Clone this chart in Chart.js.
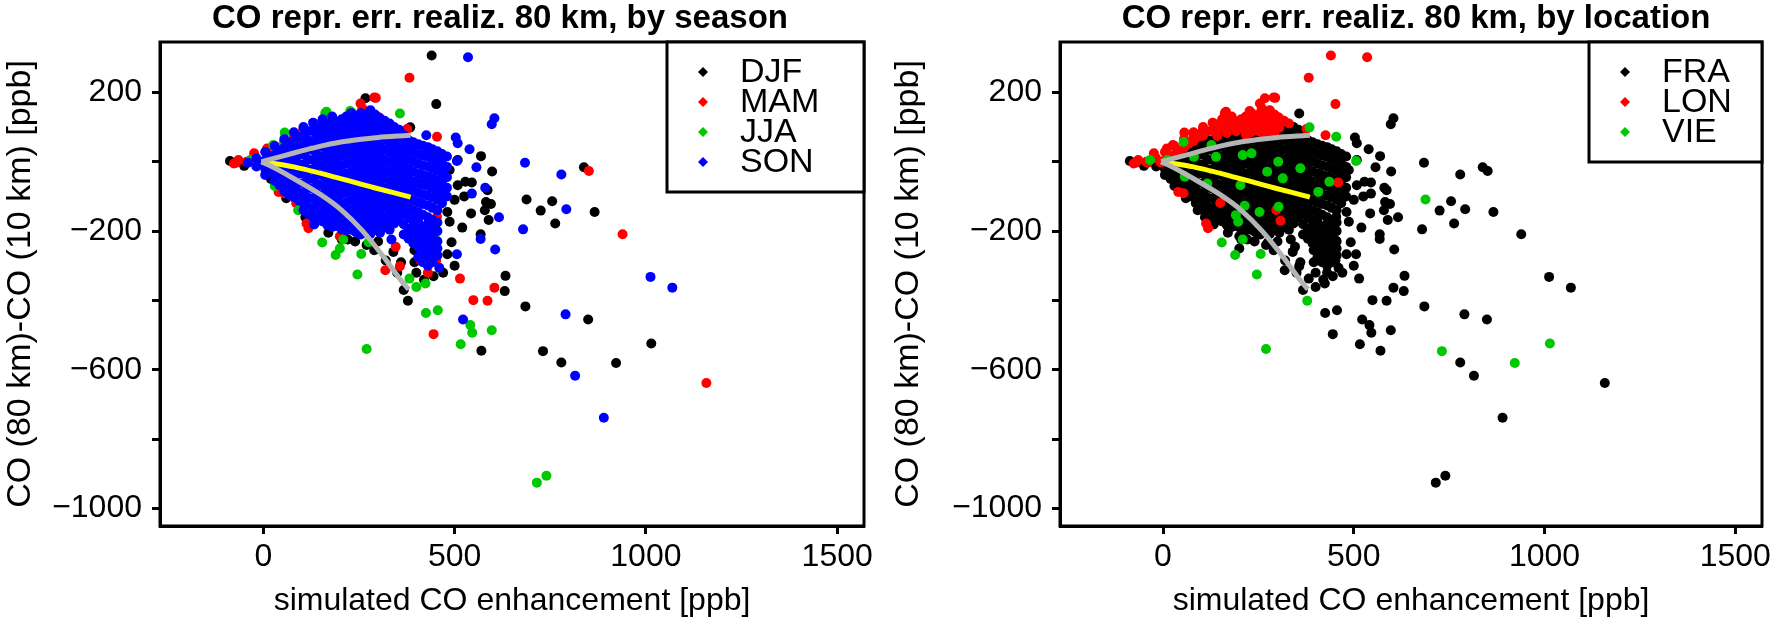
<!DOCTYPE html>
<html>
<head>
<meta charset="utf-8">
<script src="https://cdn.jsdelivr.net/npm/chart.js@4.4.1/dist/chart.umd.min.js"></script>
<style>
  html, body { margin: 0; padding: 0; background: #fff; }
  .wrap { position: absolute; top: 0; width: 888px; height: 617px; }
  #w1 { left: 0; }
  #w2 { left: 888px; }
</style>
</head>
<body>
<div class="wrap" id="w1"><canvas id="seasonChart"></canvas></div>
<div class="wrap" id="w2"><canvas id="locationChart"></canvas></div>
<script>
// points per season: [simulated enhancement, 80km-10km difference, location]
// location: F = FRA, L = LON, V = VIE
const seasonNames = ['DJF', 'MAM', 'JJA', 'SON'];
const locationNames = ['FRA', 'LON', 'VIE'];
const xTicks = [0, 500, 1000, 1500];
const yTicks = [-1000, -800, -600, -400, -200, 0, 200];
const yTicksLabelled = [-1000, -600, -200, 200];

const djf = [
  [440,306,'L'],[452,166,'L'],[267,183,'L'],[384,99,'V'],[569,16,'F'],[838,-16,'F'],[598,-28,'F'],
  [688,-109,'V'],[755,-114,'F'],[725,-141,'F'],[866,-145,'F'],[763,-178,'F'],[586,-82,'F'],[595,-122,'F'],
  [568,-209,'F'],[492,-232,'F'],[481,-267,'F'],[633,-329,'F'],[631,-373,'F'],[685,-417,'F'],[849,-455,'F'],
  [570,-545,'F'],[731,-546,'V'],[779,-579,'F'],[922,-580,'V'],[1014,-524,'V'],[367,-370,'F'],[378,-401,'V'],
  [449,9,'F'],[465,-15,'F'],[487,-24,'F'],[508,5,'F'],[528,-58,'F'],[508,-68,'F'],[481,-145,'F'],
  [487,-173,'F'],[438,-72,'F'],[411,-231,'F'],[395,-255,'F'],[221,-224,'F'],[205,-224,'F'],[146,-147,'F'],
  [303,-139,'F'],[254,101,'L'],[292,106,'L'],[243,91,'L'],[-87,2,'F'],[579,-140,'F'],[543,-149,'F'],
  [582,-116,'F'],[589,-168,'F'],[500,-110,'F'],[520,-190,'F'],[545,-60,'F'],[525,-100,'F'],
  [60,-105,'F'],[110,-160,'F'],[170,-205,'F'],[240,-230,'F'],[290,-255,'F'],[320,-285,'F'],[350,-320,'F'],
  [270,-240,'F'],[300,-230,'F'],[340,-260,'F'],[360,-290,'F'],[20,-50,'F'],[-50,-12,'F'],
  [470,-320,'F'],[500,-300,'F'],[445,-330,'F'],[420,-340,'F'],[400,-320,'F'],[395,-290,'F']
];

const mam = [
  [382,242,'L'],[294,184,'L'],[254,168,'L'],[376,94,'L'],[454,72,'V'],[851,-27,'F'],[939,-209,'F'],
  [452,-284,'F'],[514,-337,'F'],[604,-363,'F'],[549,-399,'F'],[586,-401,'F'],[445,-497,'F'],[1158,-638,'F'],
  [-71,-3,'L'],[-44,0,'L'],[10,38,'L'],[302,128,'L'],[259,154,'L'],[319,-313,'F'],[357,-301,'F'],
  [118,-192,'L'],[113,-178,'L'],[54,-91,'L'],[86,-120,'F'],[346,-245,'F'],[427,33,'F'],[416,-48,'F'],
  [454,-159,'F'],[297,-139,'L'],[411,-284,'F'],[40,-87,'L'],[150,-119,'L'],[308,-170,'L'],[459,-60,'L'],
  [-65,5,'L'],[-24,24,'L'],[290,185,'L'],[272,120,'L'],[133,110,'L'],[104,91,'L'],[80,72,'L'],
  [-77,-5,'L'],[200,-215,'F'],[430,-320,'F'],[75,-100,'F'],[135,-165,'F']
];

const jja = [
  [357,139,'F'],[56,84,'L'],[165,144,'L'],[227,146,'L'],[211,118,'L'],[26,48,'L'],[-34,5,'V'],
  [91,-140,'F'],[154,-233,'V'],[200,-250,'F'],[189,-269,'V'],[256,-266,'V'],[246,-325,'V'],[382,-337,'F'],
  [400,-361,'F'],[424,-351,'F'],[454,-228,'F'],[432,-255,'F'],[275,-232,'F'],[425,-436,'F'],[456,-428,'F'],
  [541,-471,'F'],[546,-493,'F'],[597,-486,'F'],[516,-526,'F'],[270,-540,'V'],[715,-925,'F'],[740,-905,'F'],
  [400,-82,'F'],[303,-130,'V'],[162,140,'L'],[232,140,'L'],
  [54,57,'V'],[127,48,'V'],[209,19,'V'],[232,24,'V'],[302,0,'V'],[360,-19,'V'],[273,-29,'V'],
  [314,-48,'V'],[407,-87,'V'],[436,-58,'V'],[203,-68,'V'],[214,-127,'V'],[253,-145,'V'],[191,-154,'V'],
  [197,-173,'V'],[209,-224,'V'],[11,5,'V'],[139,14,'V'],[81,14,'V'],[57,-43,'V'],[116,-63,'V'],
  [120,-150,'F'],[30,-70,'F']
];

const son = [
  [535,301,'L'],[604,125,'F'],[597,108,'F'],[426,76,'L'],[503,70,'F'],[508,53,'F'],[539,36,'F'],
  [684,-3,'F'],[779,-37,'F'],[557,-16,'F'],[792,-137,'F'],[616,-160,'F'],[679,-195,'F'],[568,-223,'F'],
  [606,-253,'F'],[506,-267,'F'],[460,-306,'F'],[1012,-332,'F'],[1069,-363,'F'],[790,-440,'F'],[522,-455,'F'],
  [815,-617,'F'],[890,-738,'F'],[133,-181,'F'],[335,-224,'F'],[506,2,'V'],[545,-92,'F'],[580,-75,'F'],
  [-40,-3,'L'],[-6,-2,'L'],
  [-18,10,'L'],[-18,-14,'F'],
  [5,28,'L'],[5,4,'L'],[5,-20,'F'],[5,-38,'F'],
  [17,16,'L'],[17,-8,'F'],[17,-30,'F'],
  [30,45,'L'],[30,20,'L'],[30,-5,'F'],[30,-30,'F'],[30,-55,'F'],
  [42,32,'L'],[42,7,'F'],[42,-18,'F'],[42,-43,'F'],[42,-68,'F'],
  [55,65,'L'],[55,40,'L'],[55,15,'F'],[55,-12,'F'],[55,-40,'F'],[55,-65,'F'],[55,-85,'F'],
  [67,52,'L'],[67,27,'F'],[67,1,'F'],[67,-26,'F'],[67,-52,'F'],[67,-75,'F'],[67,-95,'F'],
  [80,85,'L'],[80,60,'L'],[80,35,'F'],[80,8,'F'],[80,-20,'F'],[80,-48,'F'],[80,-75,'F'],[80,-102,'F'],
  [92,72,'L'],[92,47,'F'],[92,21,'F'],[92,-6,'F'],[92,-34,'F'],[92,-62,'F'],[92,-88,'F'],[92,-112,'F'],
  [105,100,'L'],[105,75,'L'],[105,48,'F'],[105,20,'F'],[105,-8,'F'],[105,-35,'F'],[105,-62,'F'],
  [105,-90,'F'],[105,-118,'F'],[105,-140,'F'],
  [117,88,'L'],[117,62,'F'],[117,34,'F'],[117,6,'F'],[117,-22,'F'],[117,-48,'F'],[117,-76,'F'],
  [117,-104,'F'],[117,-130,'F'],[117,-150,'F'],
  [130,112,'L'],[130,88,'L'],[130,60,'F'],[130,33,'F'],[130,5,'F'],[130,-22,'F'],[130,-50,'F'],
  [130,-78,'F'],[130,-106,'F'],[130,-134,'F'],[130,-160,'F'],
  [142,100,'L'],[142,74,'L'],[142,47,'F'],[142,19,'F'],[142,-9,'F'],[142,-36,'F'],[142,-64,'F'],
  [142,-92,'F'],[142,-120,'F'],[142,-147,'F'],[142,-166,'F'],
  [155,122,'L'],[155,96,'L'],[155,70,'F'],[155,43,'F'],[155,15,'F'],[155,-12,'F'],[155,-40,'F'],
  [155,-68,'F'],[155,-96,'F'],[155,-124,'F'],[155,-152,'F'],[155,-172,'F'],
  [167,110,'L'],[167,83,'L'],[167,57,'F'],[167,29,'F'],[167,1,'F'],[167,-26,'F'],[167,-54,'F'],
  [167,-82,'F'],[167,-110,'F'],[167,-138,'F'],[167,-162,'F'],[167,-182,'F'],
  [180,130,'L'],[180,104,'L'],[180,76,'F'],[180,49,'F'],[180,21,'F'],[180,-7,'F'],[180,-35,'F'],
  [180,-63,'F'],[180,-91,'F'],[180,-119,'F'],[180,-147,'F'],[180,-175,'F'],[180,-188,'F'],
  [192,116,'L'],[192,88,'L'],[192,61,'F'],[192,34,'F'],[192,6,'F'],[192,-22,'F'],[192,-50,'F'],
  [192,-78,'F'],[192,-106,'F'],[192,-134,'F'],[192,-162,'F'],[192,-185,'F'],
  [205,122,'L'],[205,98,'L'],[205,72,'F'],[205,45,'F'],[205,18,'F'],[205,-10,'F'],[205,-38,'F'],
  [205,-66,'F'],[205,-94,'F'],[205,-122,'F'],[205,-150,'F'],[205,-178,'F'],[205,-195,'F'],
  [217,130,'L'],[217,104,'L'],[217,78,'L'],[217,50,'F'],[217,22,'F'],[217,-6,'F'],[217,-34,'F'],
  [217,-62,'F'],[217,-90,'F'],[217,-118,'F'],[217,-146,'F'],[217,-174,'F'],[217,-198,'F'],
  [230,140,'L'],[230,112,'L'],[230,84,'L'],[230,56,'F'],[230,28,'F'],[230,0,'F'],[230,-28,'F'],
  [230,-56,'F'],[230,-84,'F'],[230,-112,'F'],[230,-140,'F'],[230,-168,'F'],[230,-196,'F'],
  [242,126,'L'],[242,98,'L'],[242,71,'F'],[242,43,'F'],[242,15,'F'],[242,-13,'F'],[242,-41,'F'],
  [242,-69,'F'],[242,-97,'F'],[242,-125,'F'],[242,-153,'F'],[242,-181,'F'],[242,-203,'F'],
  [255,140,'L'],[255,113,'L'],[255,86,'L'],[255,58,'F'],[255,30,'F'],[255,2,'F'],[255,-26,'F'],
  [255,-54,'F'],[255,-82,'F'],[255,-110,'F'],[255,-138,'F'],[255,-166,'F'],[255,-194,'F'],[255,-210,'F'],
  [267,134,'L'],[267,106,'L'],[267,78,'L'],[267,50,'F'],[267,22,'F'],[267,-6,'F'],[267,-34,'F'],
  [267,-62,'F'],[267,-90,'F'],[267,-118,'F'],[267,-146,'F'],[267,-174,'F'],[267,-200,'F'],
  [280,148,'L'],[280,120,'L'],[280,92,'L'],[280,64,'F'],[280,36,'F'],[280,8,'F'],[280,-20,'F'],
  [280,-48,'F'],[280,-76,'F'],[280,-104,'F'],[280,-132,'F'],[280,-160,'F'],[280,-188,'F'],[280,-208,'F'],
  [292,136,'L'],[292,109,'L'],[292,81,'L'],[292,53,'F'],[292,25,'F'],[292,-3,'F'],[292,-31,'F'],
  [292,-59,'F'],[292,-87,'F'],[292,-115,'F'],[292,-143,'F'],[292,-171,'F'],[292,-196,'F'],
  [305,125,'L'],[305,98,'L'],[305,70,'F'],[305,42,'F'],[305,14,'F'],[305,-14,'F'],[305,-42,'F'],
  [305,-70,'F'],[305,-98,'F'],[305,-126,'F'],[305,-154,'F'],[305,-182,'F'],[305,-205,'F'],
  [317,118,'L'],[317,91,'F'],[317,63,'F'],[317,35,'F'],[317,7,'F'],[317,-21,'F'],[317,-49,'F'],
  [317,-77,'F'],[317,-105,'F'],[317,-133,'F'],[317,-161,'F'],[317,-189,'F'],
  [330,110,'L'],[330,84,'F'],[330,56,'F'],[330,28,'F'],[330,0,'F'],[330,-28,'F'],[330,-56,'F'],
  [330,-84,'F'],[330,-112,'F'],[330,-140,'F'],[330,-168,'F'],[330,-196,'F'],
  [342,100,'F'],[342,74,'F'],[342,46,'F'],[342,18,'F'],[342,-10,'F'],[342,-38,'F'],[342,-66,'F'],
  [342,-94,'F'],[342,-122,'F'],[342,-150,'F'],[342,-178,'F'],
  [355,92,'F'],[355,64,'F'],[355,36,'F'],[355,8,'F'],[355,-20,'F'],[355,-48,'F'],[355,-76,'F'],
  [355,-104,'F'],[355,-132,'F'],[355,-160,'F'],
  [367,77,'F'],[367,49,'F'],[367,21,'F'],[367,-7,'F'],[367,-35,'F'],[367,-63,'F'],[367,-91,'F'],
  [367,-119,'F'],[367,-147,'F'],[367,-180,'F'],[367,-210,'F'],
  [380,62,'F'],[380,34,'F'],[380,6,'F'],[380,-22,'F'],[380,-50,'F'],[380,-78,'F'],[380,-106,'F'],
  [380,-134,'F'],[380,-162,'F'],[380,-195,'F'],[380,-222,'F'],
  [392,56,'F'],[392,28,'F'],[392,0,'F'],[392,-28,'F'],[392,-56,'F'],[392,-84,'F'],[392,-112,'F'],
  [392,-140,'F'],[392,-168,'F'],[392,-185,'F'],[392,-205,'F'],[392,-235,'F'],
  [405,50,'F'],[405,22,'F'],[405,-6,'F'],[405,-34,'F'],[405,-62,'F'],[405,-90,'F'],[405,-118,'F'],
  [405,-146,'F'],[405,-174,'F'],[405,-195,'F'],[405,-215,'F'],[405,-230,'F'],[405,-245,'F'],[405,-275,'F'],
  [417,46,'F'],[417,18,'F'],[417,-10,'F'],[417,-38,'F'],[417,-66,'F'],[417,-94,'F'],[417,-122,'F'],
  [417,-153,'F'],[417,-187,'F'],[417,-207,'F'],[417,-228,'F'],[417,-245,'F'],[417,-262,'F'],[417,-275,'F'],[417,-290,'F'],
  [430,42,'F'],[430,14,'F'],[430,-14,'F'],[430,-42,'F'],[430,-70,'F'],[430,-98,'F'],[430,-126,'F'],
  [430,-160,'F'],[430,-180,'F'],[430,-200,'F'],[430,-220,'F'],[430,-240,'F'],[430,-260,'F'],[430,-280,'F'],[430,-300,'F'],
  [442,36,'F'],[442,8,'F'],[442,-20,'F'],[442,-48,'F'],[442,-76,'F'],[442,-104,'F'],[442,-133,'F'],
  [442,-168,'F'],[442,-190,'F'],[442,-215,'F'],[442,-235,'F'],[442,-255,'F'],[442,-272,'F'],[442,-290,'F'],
  [455,30,'F'],[455,2,'F'],[455,-26,'F'],[455,-54,'F'],[455,-82,'F'],[455,-110,'F'],[455,-140,'F'],
  [455,-175,'F'],[455,-200,'F'],[455,-230,'F'],[455,-250,'F'],[455,-270,'F'],
  [467,22,'F'],[467,-6,'F'],[467,-35,'F'],[467,-64,'F'],[467,-92,'F'],[467,-120,'F'],
  [480,15,'F'],[480,-15,'F'],[480,-45,'F'],[480,-75,'F'],[480,-100,'F']
];

// envelope and mean curves
const upperGrayX = [-5, 50, 100, 150, 200, 250, 300, 350, 385];
const upperGrayY = [0, 16, 31, 45, 56, 64, 70, 74, 76];
const lowerGrayX = [-5, 30, 85, 150, 205, 260, 315, 355, 380];
const lowerGrayY = [0, -18, -52, -95, -140, -200, -275, -335, -368];
const yellowX = [-5, 80, 190, 290, 385];
const yellowY = [0, -15, -45, -75, -102];

const seasonColors = ['#000000', '#ff0000', '#00c800', '#0000ff'];
const locationColors = ['#000000', '#ff0000', '#00c800'];
const FONT = '"Liberation Sans", Arial, Helvetica, sans-serif';

const toXY = (xs, ys) => xs.map((x, i) => ({x: x, y: ys[i]}));

function curveSets() {
    return [
        { data: toXY(upperGrayX, upperGrayY), showLine: true, borderColor: '#b4b4b4', borderWidth: 5, pointRadius: 0, tension: 0.3, order: 0 },
        { data: toXY(lowerGrayX, lowerGrayY), showLine: true, borderColor: '#b4b4b4', borderWidth: 5, pointRadius: 0, tension: 0.3, order: 0 },
        { data: toXY(yellowX, yellowY), showLine: true, borderColor: '#ffff00', borderWidth: 5, pointRadius: 0, tension: 0.3, order: 0 }
    ];
}

function pointSet(label, pts, color, order) {
    return {
        label,
        data: pts.map(p => ({x: p[0], y: p[1]})),
        backgroundColor: color,
        pointRadius: 5,
        pointHoverRadius: 5,
        pointBorderWidth: 0,
        order
    };
}

const framePlugin = {
    id: 'frameBox',
    afterDatasetsDraw(chart, args, opts) {
        const {ctx, chartArea: a} = chart;
        ctx.save();
        ctx.lineWidth = 3;
        ctx.strokeStyle = '#000';
        ctx.strokeRect(a.left, a.top, a.right - a.left, a.bottom - a.top);

        // legend box, top right inside the frame
        const n = opts.entries.length;
        const lx = a.right - opts.legendWidth;
        const lh = 30 * n + 30;
        ctx.fillStyle = '#fff';
        ctx.fillRect(lx, a.top, opts.legendWidth, lh);
        ctx.strokeRect(lx, a.top, opts.legendWidth, lh);
        ctx.font = '34px ' + FONT;
        ctx.textBaseline = 'middle';
        ctx.textAlign = 'left';
        opts.entries.forEach((e, i) => {
            const y = a.top + 30 + i * 30;
            const mx = lx + 36;
            ctx.fillStyle = e.color;
            ctx.beginPath();
            ctx.moveTo(mx, y - 5);
            ctx.lineTo(mx + 5, y);
            ctx.lineTo(mx, y + 5);
            ctx.lineTo(mx - 5, y);
            ctx.closePath();
            ctx.fill();
            ctx.fillStyle = '#000';
            ctx.fillText(e.label, lx + 73, y + 1);
        });

        ctx.font = 'bold 33px ' + FONT;
        ctx.textAlign = 'center';
        ctx.textBaseline = 'alphabetic';
        ctx.fillStyle = '#000';
        ctx.fillText(opts.title, opts.titleX, 28);
        ctx.restore();
    }
};

function makeOptions(yWidth, rightPad, title, titleX, entries, legendWidth) {
    return {
        responsive: true,
        maintainAspectRatio: false,
        animation: false,
        layout: { padding: { top: 42, right: rightPad, left: 0, bottom: 0 } },
        plugins: {
            legend: { display: false },
            tooltip: { enabled: false },
            frameBox: { title, titleX, entries, legendWidth }
        },
        scales: {
            x: {
                type: 'linear',
                min: -270,
                max: 1570,
                afterFit: s => { s.height = 91; },
                afterBuildTicks: s => { s.ticks = xTicks.map(v => ({value: v})); },
                border: { display: true, color: '#000', width: 3 },
                grid: { drawOnChartArea: false, drawTicks: true, tickLength: 8, tickWidth: 3, tickColor: '#000' },
                ticks: {
                    color: '#000',
                    padding: 4,
                    maxRotation: 0,
                    autoSkip: false,
                    font: { family: FONT, size: 32 },
                    callback: v => String(v)
                },
                title: {
                    display: true,
                    text: 'simulated CO enhancement [ppb]',
                    color: '#000',
                    padding: 0,
                    font: { family: FONT, size: 32, lineHeight: 1 }
                }
            },
            y: {
                type: 'linear',
                min: -1050,
                max: 345,
                afterFit: s => { s.width = yWidth; },
                afterBuildTicks: s => { s.ticks = yTicks.map(v => ({value: v})); },
                border: { display: true, color: '#000', width: 3 },
                grid: { drawOnChartArea: false, drawTicks: true, tickLength: 8, tickWidth: 3, tickColor: '#000' },
                ticks: {
                    color: '#000',
                    padding: 10,
                    autoSkip: false,
                    font: { family: FONT, size: 32 },
                    callback: v => yTicksLabelled.includes(v) ? String(v).replace('-', '\u2212') : ''
                },
                title: {
                    display: true,
                    text: 'CO (80 km)-CO (10 km) [ppb]',
                    color: '#000',
                    padding: { top: 4, bottom: 0 },
                    font: { family: FONT, size: 34, lineHeight: 1 }
                }
            }
        }
    };
}

document.addEventListener('DOMContentLoaded', function() {
    const seasons = [djf, mam, jja, son];

    // left: coloured by season, SON drawn on top
    const seasonSets = seasons.map((pts, i) => pointSet(seasonNames[i], pts, seasonColors[i], 4 - i));
    new Chart(document.getElementById('seasonChart'), {
        type: 'scatter',
        data: { datasets: curveSets().concat(seasonSets) },
        options: makeOptions(160, 24, 'CO repr. err. realiz. 80 km, by season', 500,
            seasonNames.map((s, i) => ({label: s, color: seasonColors[i]})), 197),
        plugins: [framePlugin]
    });

    // right: same points coloured by location
    const codes = ['F', 'L', 'V'];
    const allPts = [].concat(djf, mam, jja, son);
    const locationSets = codes.map((c, i) =>
        pointSet(locationNames[i], allPts.filter(p => p[2] === c), locationColors[i], 3 - i));
    new Chart(document.getElementById('locationChart'), {
        type: 'scatter',
        data: { datasets: curveSets().concat(locationSets) },
        options: makeOptions(172, 14, 'CO repr. err. realiz. 80 km, by location', 528,
            locationNames.map((s, i) => ({label: s, color: locationColors[i]})), 173),
        plugins: [framePlugin]
    });
});
</script>
</body>
</html>
